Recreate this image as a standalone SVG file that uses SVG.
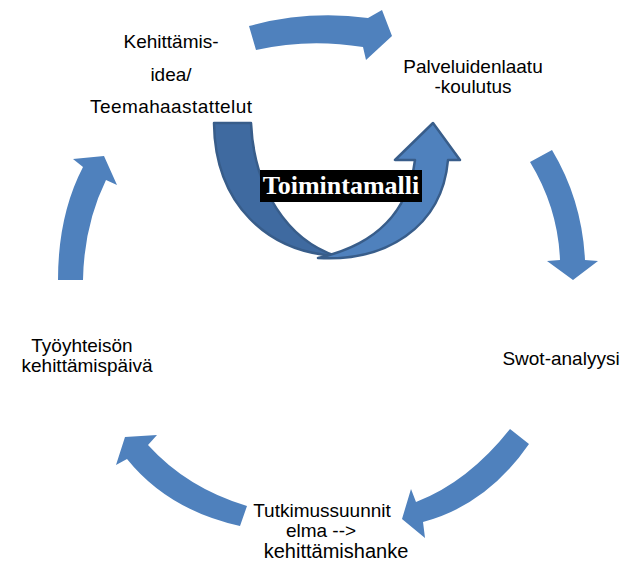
<svg xmlns="http://www.w3.org/2000/svg" width="625" height="568" viewBox="0 0 625 568">
  <style>
    .arrow { fill: #4f81bd; }
    .label { font-family: "Liberation Sans", Arial, sans-serif; font-size: 19px; fill: #000; text-anchor: middle; }
    .center-label { font-family: "Liberation Serif", "Times New Roman", serif; font-size: 26px; font-weight: bold; fill: #fff; text-anchor: middle; }
    .u-back { fill: #3f6aa0; stroke: #385d8a; stroke-width: 2.5; stroke-linejoin: round; }
    .u-front { fill: #4f81bd; stroke: #385d8a; stroke-width: 2.5; stroke-linejoin: round; }
  </style>
  <rect width="625" height="568" fill="#fff"/>

  <!-- cycle arrows -->
  <g id="connectors">
    <path class="arrow" d="M249,26 Q308,10 368,18 L382,10 L392,36 L366,60 L363,47 Q308,38 256,50 Z"/>
    <path class="arrow" d="M530,162 L552,150 Q582,200 585,260 L598,261 L573,280 L547,261 L560,260 Q558,208 530,162 Z"/>
    <path class="arrow" d="M510,429 L529,444 Q487,505 423,522 L425,538 L402,519 L411,489 L416,502 Q468,482 510,429 Z"/>
    <path class="arrow" d="M240,526 L247,506 Q187,488 148,445 L157,435 L125,437 L116,465 L127,459 Q168,510 240,526 Z"/>
    <path class="arrow" d="M58,280 Q58,215 83,167 L73,159 L104,156 L117,185 L106,180 Q84,225 83,280 Z"/>
  </g>

  <!-- central curved up arrow -->
  <g id="toimintamalli">
    <path class="u-back" d="M214,123 L251,123 C254,190 288,240 336,256 C268,252 215,205 214,123 Z"/>
    <path class="u-front" d="M318,258 C385,262 442,228 448,160 L460,160 L433,123 L395,160 L415,160 C408,215 372,246 318,258 Z"/>
    <rect x="260" y="170" width="162" height="32" fill="#000"/>
    <text class="center-label" x="341" y="194">Toimintamalli</text>
  </g>

  <g id="node-kehittamisidea">
    <text class="label" x="171" y="48">Kehittämis-</text>
    <text class="label" x="171" y="81">idea/</text>
    <text class="label" x="171" y="113" textLength="162">Teemahaastattelut</text>
  </g>

  <g id="node-palveluidenlaatu">
    <text class="label" x="473" y="73">Palveluidenlaatu</text>
    <text class="label" x="473" y="93">-koulutus</text>
  </g>

  <g id="node-swot">
    <text class="label" x="561" y="365">Swot-analyysi</text>
  </g>

  <g id="node-tutkimussuunnitelma">
    <text class="label" x="322" y="517">Tutkimussuunnit</text>
    <text class="label" x="321" y="537">elma --&gt;</text>
    <text class="label" x="336" y="558" style="font-size:20px">kehittämishanke</text>
  </g>

  <g id="node-tyoyhteiso">
    <text class="label" x="82" y="352">Työyhteisön</text>
    <text class="label" x="87" y="372">kehittämispäivä</text>
  </g>
</svg>
